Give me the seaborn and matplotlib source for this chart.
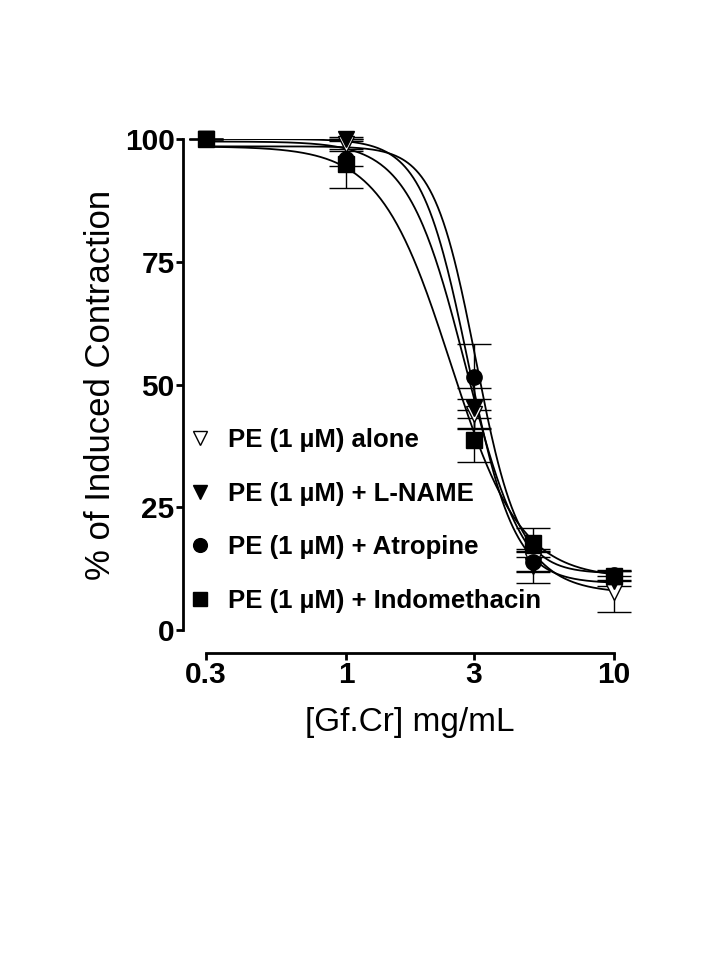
#!/usr/bin/env python3

import matplotlib
matplotlib.use('Agg')
import matplotlib.pyplot as plt
import numpy as np
import pandas as pd
import seaborn as sns

# Concentrations of Gf.Cr (mg/mL)
conc = [0.3, 1, 3, 5, 10]

groups = ['PE (1 µM) alone', 'PE (1 µM) + L-NAME',
          'PE (1 µM) + Atropine', 'PE (1 µM) + Indomethacin']

# Mean response (% of induced contraction) and SEM for each group
alone_mean = [100, 99, 44, 14, 7.8]
alone_sem = [0, 1.0, 3.0, 2.0, 4.2]
lname_mean = [100, 100, 45.2, 13.0, 10.0]
lname_sem = [0, 0.5, 4.0, 3.4, 1.0]
atropine_mean = [100, 96, 51.5, 13.8, 11.2]
atropine_sem = [0, 1.5, 6.7, 2.0, 1.0]
indo_mean = [100, 95, 38.7, 17.8, 11.0]
indo_sem = [0, 5.0, 4.5, 3.0, 1.0]

# Sigmoidal fit parameters (top, bottom, EC50 in mg/mL, Hill slope)
fit_top = [99.5, 100, 98.5, 98.5]
fit_bottom = [7.5, 9.5, 11.5, 10.5]
fit_ec50 = [2.8, 2.85, 3.05, 2.45]
fit_hill = [4.0, 5.0, 5.5, 3.3]

markers = ['v', 'v', 'o', 's']
facecolors = ['white', 'black', 'black', 'black']


def fitted_curves():
    """Evaluate the fitted dose-response curves on a log grid"""
    x = np.logspace(np.log10(0.3), np.log10(10), 300)
    frames = []
    for g, top, bot, ec, h in zip(groups, fit_top, fit_bottom, fit_ec50, fit_hill):
        y = bot + (top - bot) / (1 + (x / ec) ** h)
        frames.append(pd.DataFrame({'conc': x, 'resp': y, 'group': g}))
    return pd.concat(frames, ignore_index=True)


def main():
    sns.set_theme(style='ticks')
    plt.rcParams['font.family'] = ['Liberation Sans', 'DejaVu Sans']
    plt.rcParams['text.color'] = 'black'
    plt.rcParams['axes.labelcolor'] = 'black'
    plt.rcParams['xtick.color'] = 'black'
    plt.rcParams['ytick.color'] = 'black'

    fig = plt.figure(figsize=(7.2, 9.6), dpi=100)
    ax = fig.add_axes([206 / 720, 330 / 960, 408 / 720, 491 / 960])

    curves = fitted_curves()
    sns.lineplot(data=curves, x='conc', y='resp', units='group', estimator=None,
                 color='black', linewidth=1.3, ax=ax, legend=False)

    means = [alone_mean, lname_mean, atropine_mean, indo_mean]
    sems = [alone_sem, lname_sem, atropine_sem, indo_sem]
    handles = []
    for g, m, s, mk, fc in zip(groups, means, sems, markers, facecolors):
        ax.errorbar(conc, m, yerr=s, fmt='none', ecolor='black', elinewidth=1,
                    capsize=12, capthick=1, clip_on=False, zorder=3)
        h, = ax.plot(conc, m, linestyle='none', marker=mk, markersize=11,
                     markerfacecolor=fc, markeredgecolor='black',
                     markeredgewidth=1, clip_on=False, zorder=4, label=g)
        handles.append(h)

    ax.set_xscale('log')
    ax.set_xlim(0.3, 10)
    ax.set_ylim(0, 100)
    ax.set_xticks([0.3, 1, 3, 10])
    ax.set_xticklabels(['0.3', '1', '3', '10'])
    ax.xaxis.set_minor_locator(matplotlib.ticker.NullLocator())
    ax.set_yticks([0, 25, 50, 75, 100])

    ax.spines['top'].set_visible(False)
    ax.spines['right'].set_visible(False)
    # 23 px outward offset (points at 100 dpi)
    ax.spines['left'].set_position(('outward', 16.5))
    ax.spines['bottom'].set_position(('outward', 16.5))
    for sp in ['left', 'bottom']:
        ax.spines[sp].set_linewidth(2)
        ax.spines[sp].set_color('black')
    ax.tick_params(axis='both', width=2, length=5, color='black',
                   labelsize=21.5, pad=1)
    for lab in ax.get_xticklabels() + ax.get_yticklabels():
        lab.set_fontweight('bold')

    ax.set_xlabel('[Gf.Cr] mg/mL', fontsize=24, labelpad=13)
    ax.set_ylabel('% of Induced Contraction', fontsize=25, labelpad=6)

    fig.legend(handles=handles, labels=groups, loc='upper left',
               bbox_to_anchor=(168 / 720, 1 - 405 / 960), frameon=False,
               handlelength=0.7, handletextpad=0.75, labelspacing=1.15,
               prop={'size': 18.5, 'weight': 'bold'}, markerscale=0.9)

    plt.savefig('out.png', dpi=100)


if __name__ == '__main__':
    main()
